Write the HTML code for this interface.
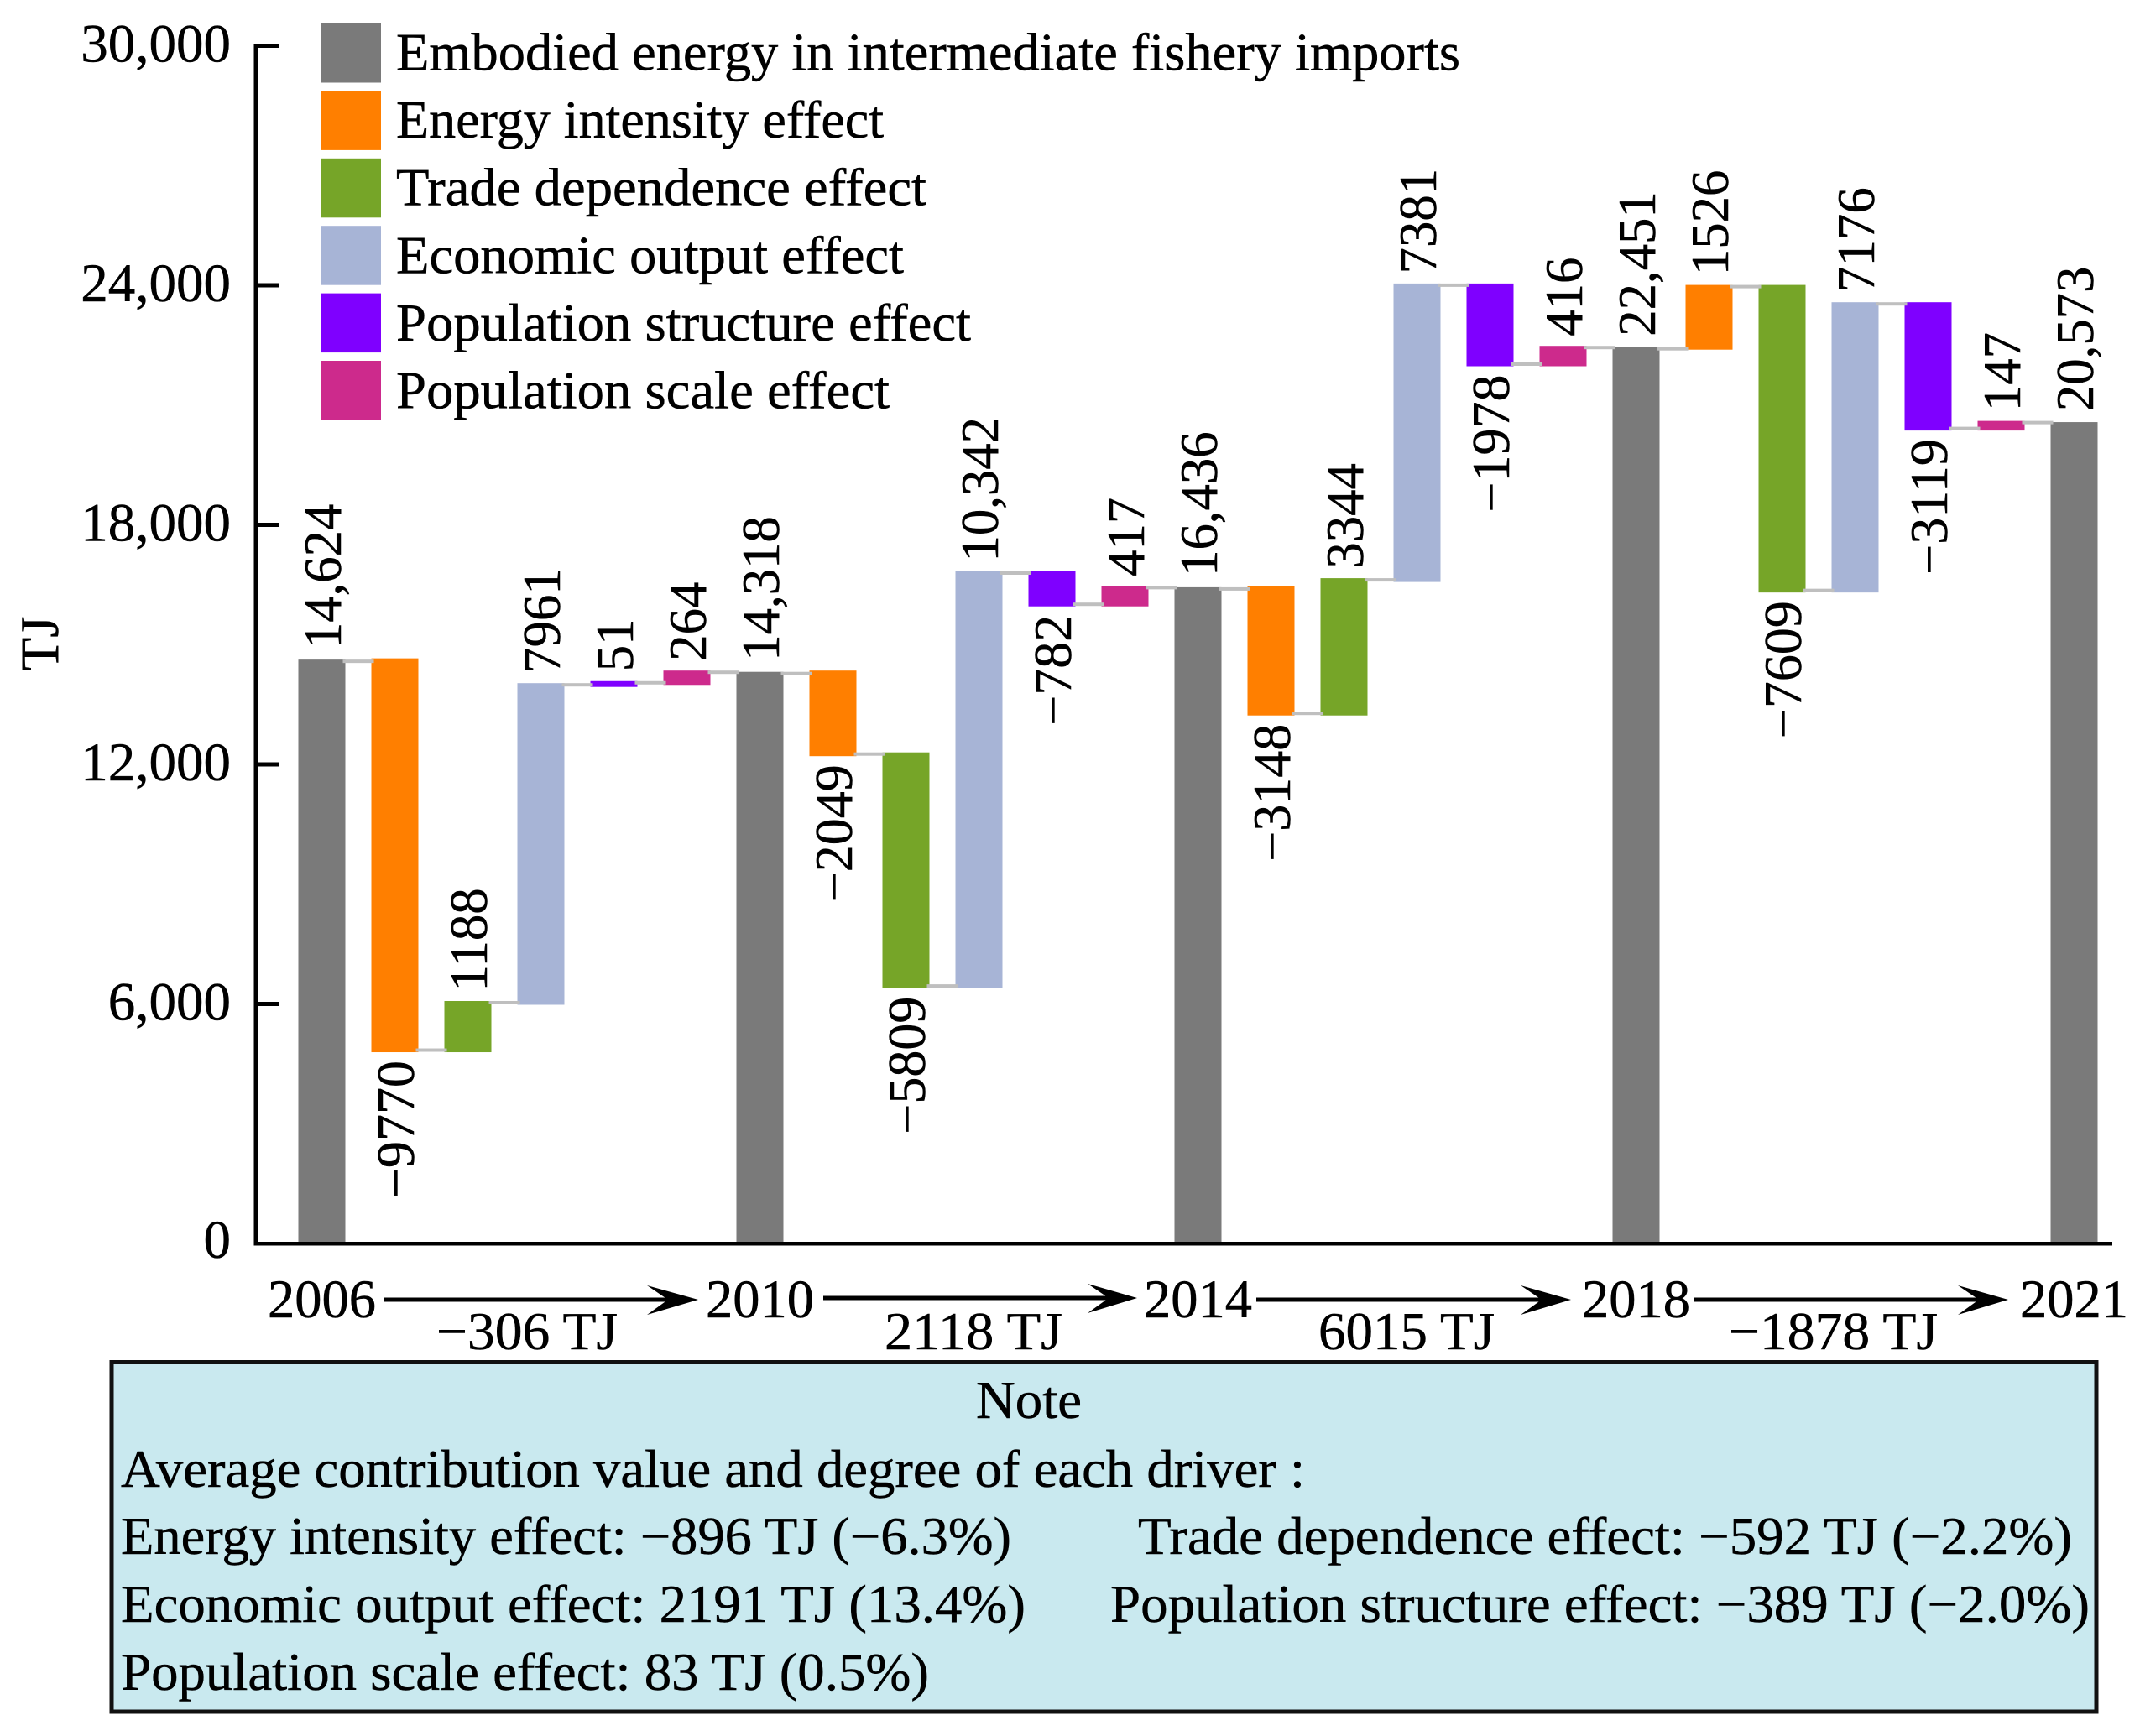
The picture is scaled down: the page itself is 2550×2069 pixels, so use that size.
<!DOCTYPE html>
<html lang="en">
<head>
<meta charset="utf-8">
<title>Embodied energy decomposition waterfall</title>
<style>
  html, body { margin: 0; padding: 0; background: #fff; }
  svg { display: block; }
  text { font-family: "Liberation Serif", "Times New Roman", serif; fill: #000; stroke: #000; stroke-width: 0.5px; }
</style>
</head>
<body>
<svg id="chart" xmlns="http://www.w3.org/2000/svg" width="2550" height="2069" viewBox="0 0 2550 2069">
  <rect x="0" y="0" width="2550" height="2069" fill="#ffffff"/>
  <g id="bars"></g>
  <g id="connectors"></g>
  <g id="value-labels"></g>
  <g id="axes"></g>
  <g id="legend"></g>
  <text transform="translate(69,767) rotate(-90)" font-size="65" text-anchor="middle">TJ</text>
  <g id="years"></g>

  <g fill="#000" stroke="none">
    <g>
      <rect x="457" y="1546.5" width="345" height="5"/><path d="M771 1532 L832 1549 L771 1567 L796 1549 Z"/>
    </g>
    <g>
      <rect x="981" y="1544.5" width="345" height="5"/><path d="M1296 1530 L1355 1547 L1296 1565 L1321 1547 Z"/>
    </g>
    <g>
      <rect x="1497" y="1546.5" width="345" height="5"/><path d="M1812 1532 L1872 1549 L1812 1567 L1837 1549 Z"/>
    </g>
    <g>
      <rect x="2019" y="1546.5" width="345" height="5"/><path d="M2333 1532 L2393 1549 L2333 1567 L2358 1549 Z"/>
    </g>
  </g>
  <g font-size="64">
    <text x="520" y="1608" textLength="216" lengthAdjust="spacingAndGlyphs">−306 TJ</text>
    <text x="1054" y="1608" textLength="212" lengthAdjust="spacingAndGlyphs">2118 TJ</text>
    <text x="1571" y="1608" textLength="210" lengthAdjust="spacingAndGlyphs">6015 TJ</text>
    <text x="2060" y="1608" textLength="249" lengthAdjust="spacingAndGlyphs">−1878 TJ</text>
  </g>

  <g>
    <rect x="133" y="1623.5" width="2365" height="416.5" fill="#c9e9ef" stroke="#111111" stroke-width="5"/>
    <g font-size="64">
      <text x="1163" y="1690" textLength="126" lengthAdjust="spacingAndGlyphs">Note</text>
      <text x="144" y="1772" textLength="1411" lengthAdjust="spacingAndGlyphs">Average contribution value and degree of each driver :</text>
      <text x="144" y="1852" textLength="1061" lengthAdjust="spacingAndGlyphs">Energy intensity effect: −896 TJ (−6.3%)</text>
      <text x="1356" y="1852" textLength="1113" lengthAdjust="spacingAndGlyphs">Trade dependence effect: −592 TJ (−2.2%)</text>
      <text x="144" y="1933" textLength="1078" lengthAdjust="spacingAndGlyphs">Economic output effect: 2191 TJ (13.4%)</text>
      <text x="1323" y="1933" textLength="1167" lengthAdjust="spacingAndGlyphs">Population structure effect: −389 TJ (−2.0%)</text>
      <text x="144" y="2014" textLength="963" lengthAdjust="spacingAndGlyphs">Population scale effect: 83 TJ (0.5%)</text>
    </g>
  </g>
</svg>
<script>
// ---- chart data ----
const years = [2006, 2010, 2014, 2018, 2021];
const embodiedEnergy = [14624, 14318, 16436, 22451, 20573];
const energyIntensity = [-9770, -2049, -3148, 1526];
const tradeDependence = [1188, -5809, 3344, -7609];
const economicOutput = [7961, 10342, 7381, 7176];
const populationStructure = [51, -782, -1978, -3119];
const populationScale = [264, 417, 416, 147];
const yTicks = [0, 6000, 12000, 18000, 24000, 30000];
const legendNames = ["Embodied energy in intermediate fishery imports", "Energy intensity effect", "Trade dependence effect", "Economic output effect", "Population structure effect", "Population scale effect"];

// ---- styles & layout ----
const colors = ["#7a7a7a", "#ff7f00", "#76a528", "#a7b4d6", "#7f00ff", "#cd2a8c"];
const effects = [energyIntensity, tradeDependence, economicOutput, populationStructure, populationScale];
const NS = "http://www.w3.org/2000/svg";
const plot = { left: 305, right: 2517, bottom: 1482, top: 54.5, yMax: 30000 };
const slot = { first: 383.5, step: 87, width: 56 };
const xAxis = i => slot.first + slot.step * i;
const yAxis = v => plot.bottom - (v / plot.yMax) * (plot.bottom - plot.top);
const fmt = v => {
  const s = Math.abs(v) >= 10000 ? Math.abs(v).toLocaleString("en-US") : String(Math.abs(v));
  return (v < 0 ? "\u2212" : "") + s;
};
function make(tag, attrs, parent, content) {
  const node = document.createElementNS(NS, tag);
  for (const k in attrs) node.setAttribute(k, attrs[k]);
  if (content !== undefined) node.textContent = content;
  parent.appendChild(node);
  return node;
}
const barsG = document.getElementById("bars");
const connG = document.getElementById("connectors");
const labG = document.getElementById("value-labels");
const axesG = document.getElementById("axes");
const legG = document.getElementById("legend");
const yearG = document.getElementById("years");

function drawLabel(text, i, y, anchor, stretch) {
  const t = make("text", { transform: "translate(" + (xAxis(i) + 22.5) + "," + y + ") rotate(-90) scale(" + stretch + ",1)", "font-size": 64, "text-anchor": anchor }, labG, text);
  
  
}
function drawConnector(i, level, offset) {
  const c = make("rect", { x: xAxis(i) + slot.width / 2 - 3, y: yAxis(level) + offset - 2, width: slot.step - slot.width + 6, height: 4, fill: "#bfbfbf" }, connG);
  
  
}

// ---- waterfall ----
let slotIndex = 0;
years.forEach((year, g) => {
  const total = embodiedEnergy[g];
  const totalBar = make("rect", { x: xAxis(slotIndex) - slot.width / 2, y: yAxis(total), width: slot.width, height: yAxis(0) - yAxis(total), fill: colors[0] }, barsG);
  
  
  drawLabel(fmt(total), slotIndex, yAxis(total) - 13, "start", 0.98);

  const yearLabel = make("text", { x: xAxis(slotIndex), y: 1570, "font-size": 64.5, "text-anchor": "middle" }, yearG, String(year));
  
  

  if (g < years.length - 1) {
    let level = total;
    drawConnector(slotIndex, level, 2);
    slotIndex++;
    effects.forEach((series, e) => {
      const delta = series[g];
      const next = level + delta;
      const hi = Math.max(level, next), lo = Math.min(level, next);
      const bar = make("rect", { x: xAxis(slotIndex) - slot.width / 2, y: yAxis(hi) - 1.5, width: slot.width, height: yAxis(lo) - yAxis(hi) + 4.5, fill: colors[e + 1] }, barsG);
      
      
      if (delta < 0) {
        drawLabel(fmt(delta), slotIndex, yAxis(lo) + 13, "end", 1);
      } else {
        drawLabel(fmt(delta), slotIndex, yAxis(hi) - 13, "start", 0.98);
      }
      level = next;
      drawConnector(slotIndex, level, 0.5);
      slotIndex++;
    });
  }
});

// ---- axes ----
const yLine = make("rect", { x: plot.left - 2.5, y: plot.top - 2.5, width: 5, height: plot.bottom - plot.top + 4.5, fill: "#000" }, axesG);


const xLine = make("rect", { x: plot.left - 2.5, y: plot.bottom - 2, width: plot.right - plot.left + 2.5, height: 4.5, fill: "#000" }, axesG);


yTicks.forEach(v => {
  if (v > 0) {
    const tick = make("rect", { x: plot.left, y: yAxis(v) - 2.5, width: 27, height: 5, fill: "#000" }, axesG);
    
    
  }
  const lab = make("text", { x: 275, y: yAxis(v) + (v === 0 ? 17 : 19), "font-size": 65, "text-anchor": "end" }, axesG, v === 0 ? "0" : v.toLocaleString("en-US"));
  
  
});

// ---- legend ----
const legendWidths = [1268, 581, 632, 605, 685, 588];
legendNames.forEach((name, i) => {
  const swatch = make("rect", { x: 383, y: 28 + 80.4 * i, width: 71, height: 70.5, fill: colors[i] }, legG);
  
  
  const lab = make("text", { x: 472, y: 83.5 + 80.6 * i, "font-size": 64, textLength: legendWidths[i], lengthAdjust: "spacingAndGlyphs" }, legG, name);
  
  
});
</script>
</body>
</html>
